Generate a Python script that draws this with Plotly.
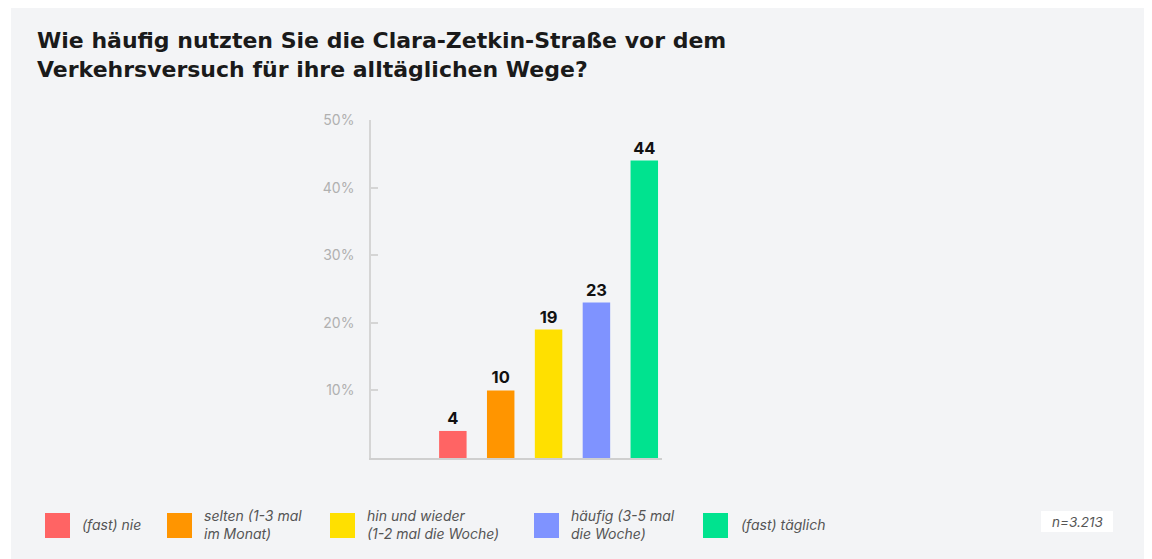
import plotly.graph_objects as go

# ---- data ----
categories = ["(fast) nie", "selten (1-3 mal im Monat)", "hin und wieder (1-2 mal die Woche)",
              "häufig (3-5 mal die Woche)", "(fast) täglich"]
legend_labels = ["(fast) nie", "selten (1-3 mal<br>im Monat)", "hin und wieder<br>(1-2 mal die Woche)",
                 "häufig (3-5 mal<br>die Woche)", "(fast) täglich"]
values = [4, 10, 19, 23, 44]
colors = ["#FF6464", "#FF9500", "#FFE000", "#7F93FF", "#00E38F"]
y_ticks = [10, 20, 30, 40, 50]
y_tick_labels = ["10%", "20%", "30%", "40%", "50%"]
title_text = "Wie häufig nutzten Sie die Clara-Zetkin-Straße vor dem<br>Verkehrsversuch für ihre alltäglichen Wege?"
n_text = "n=3.213"

# ---- layout geometry (screen pixels; page has an 8px body margin) ----
OFF = 8
FW, FH = 1152 - OFF, 559 - OFF
L, R, T, B = 371 - OFF, 662 - OFF, 120 - OFF, 458 - OFF
W, H = R - L, B - T

def px(xs):
    return (xs - OFF - L) / W

def py(ys):
    return (B - (ys - OFF)) / H

fig = go.Figure()
fig.add_trace(go.Bar(
    x=list(range(len(values))), y=values,
    marker=dict(color=colors, line=dict(width=0)),
    width=0.574,
    text=[str(v) for v in values], textposition="outside",
    textfont=dict(family="Inter", size=16.5, color="#111111", weight=700),
    cliponaxis=False, hoverinfo="skip", showlegend=False,
))

shapes = []
annotations = []
# gray panel
shapes.append(dict(type="rect", xref="paper", yref="paper", layer="below",
                   x0=px(11), x1=px(1146), y0=py(FH + 40), y1=py(0),
                   fillcolor="#F3F4F6", line=dict(width=0)))

# legend (manual)
sq_x = [45, 167, 330, 534, 703]
txt_x = [80, 202, 365, 569, 739]
for i, lab in enumerate(legend_labels):
    shapes.append(dict(type="rect", xref="paper", yref="paper",
                       x0=px(sq_x[i]), x1=px(sq_x[i] + 25), y0=py(538), y1=py(513),
                       fillcolor=colors[i], line=dict(width=0)))
    annotations.append(dict(xref="paper", yref="paper", x=px(txt_x[i]), y=py(524),
                            xanchor="left", yanchor="middle", align="left", showarrow=False,
                            text="<i>" + lab + "</i>",
                            font=dict(family="Inter", size=14, color="#555555")))

# n box
shapes.append(dict(type="rect", xref="paper", yref="paper",
                   x0=px(1041), x1=px(1113), y0=py(532), y1=py(511),
                   fillcolor="#FFFFFF", line=dict(width=0)))
annotations.append(dict(xref="paper", yref="paper", x=px(1077), y=py(521.5),
                        xanchor="center", yanchor="middle", showarrow=False,
                        text="<i>" + n_text + "</i>",
                        font=dict(family="Inter", size=13.5, color="#555555")))

# title
annotations.append(dict(xref="paper", yref="paper", x=px(35), y=py(26),
                        xanchor="left", yanchor="top", align="left", showarrow=False,
                        text=title_text,
                        font=dict(family="DejaVu Sans", size=22, color="#1A1A1A", weight=700)))

fig.update_layout(
    width=FW, height=FH,
    margin=dict(l=L, r=FW - R, t=T, b=FH - B, pad=0),
    paper_bgcolor="#FFFFFF", plot_bgcolor="rgba(0,0,0,0)",
    shapes=shapes, annotations=annotations,
    xaxis=dict(range=[-1.71, 4.37], showticklabels=False, ticks="", showgrid=False,
               zeroline=False, showline=True, linecolor="#CFCFCF", linewidth=1.5, fixedrange=True),
    yaxis=dict(range=[0, 50], tickvals=y_ticks, ticktext=y_tick_labels, showgrid=False,
               zeroline=False, showline=True, linecolor="#D5D5D5", linewidth=1.5,
               ticks="inside", ticklen=7, tickcolor="#D5D5D5", tickwidth=1.5,
               ticklabelstandoff=12,
               tickfont=dict(family="Inter", size=14, color="#B0B0B0"), fixedrange=True),
    showlegend=False,
)

fig.write_html("out.html")
